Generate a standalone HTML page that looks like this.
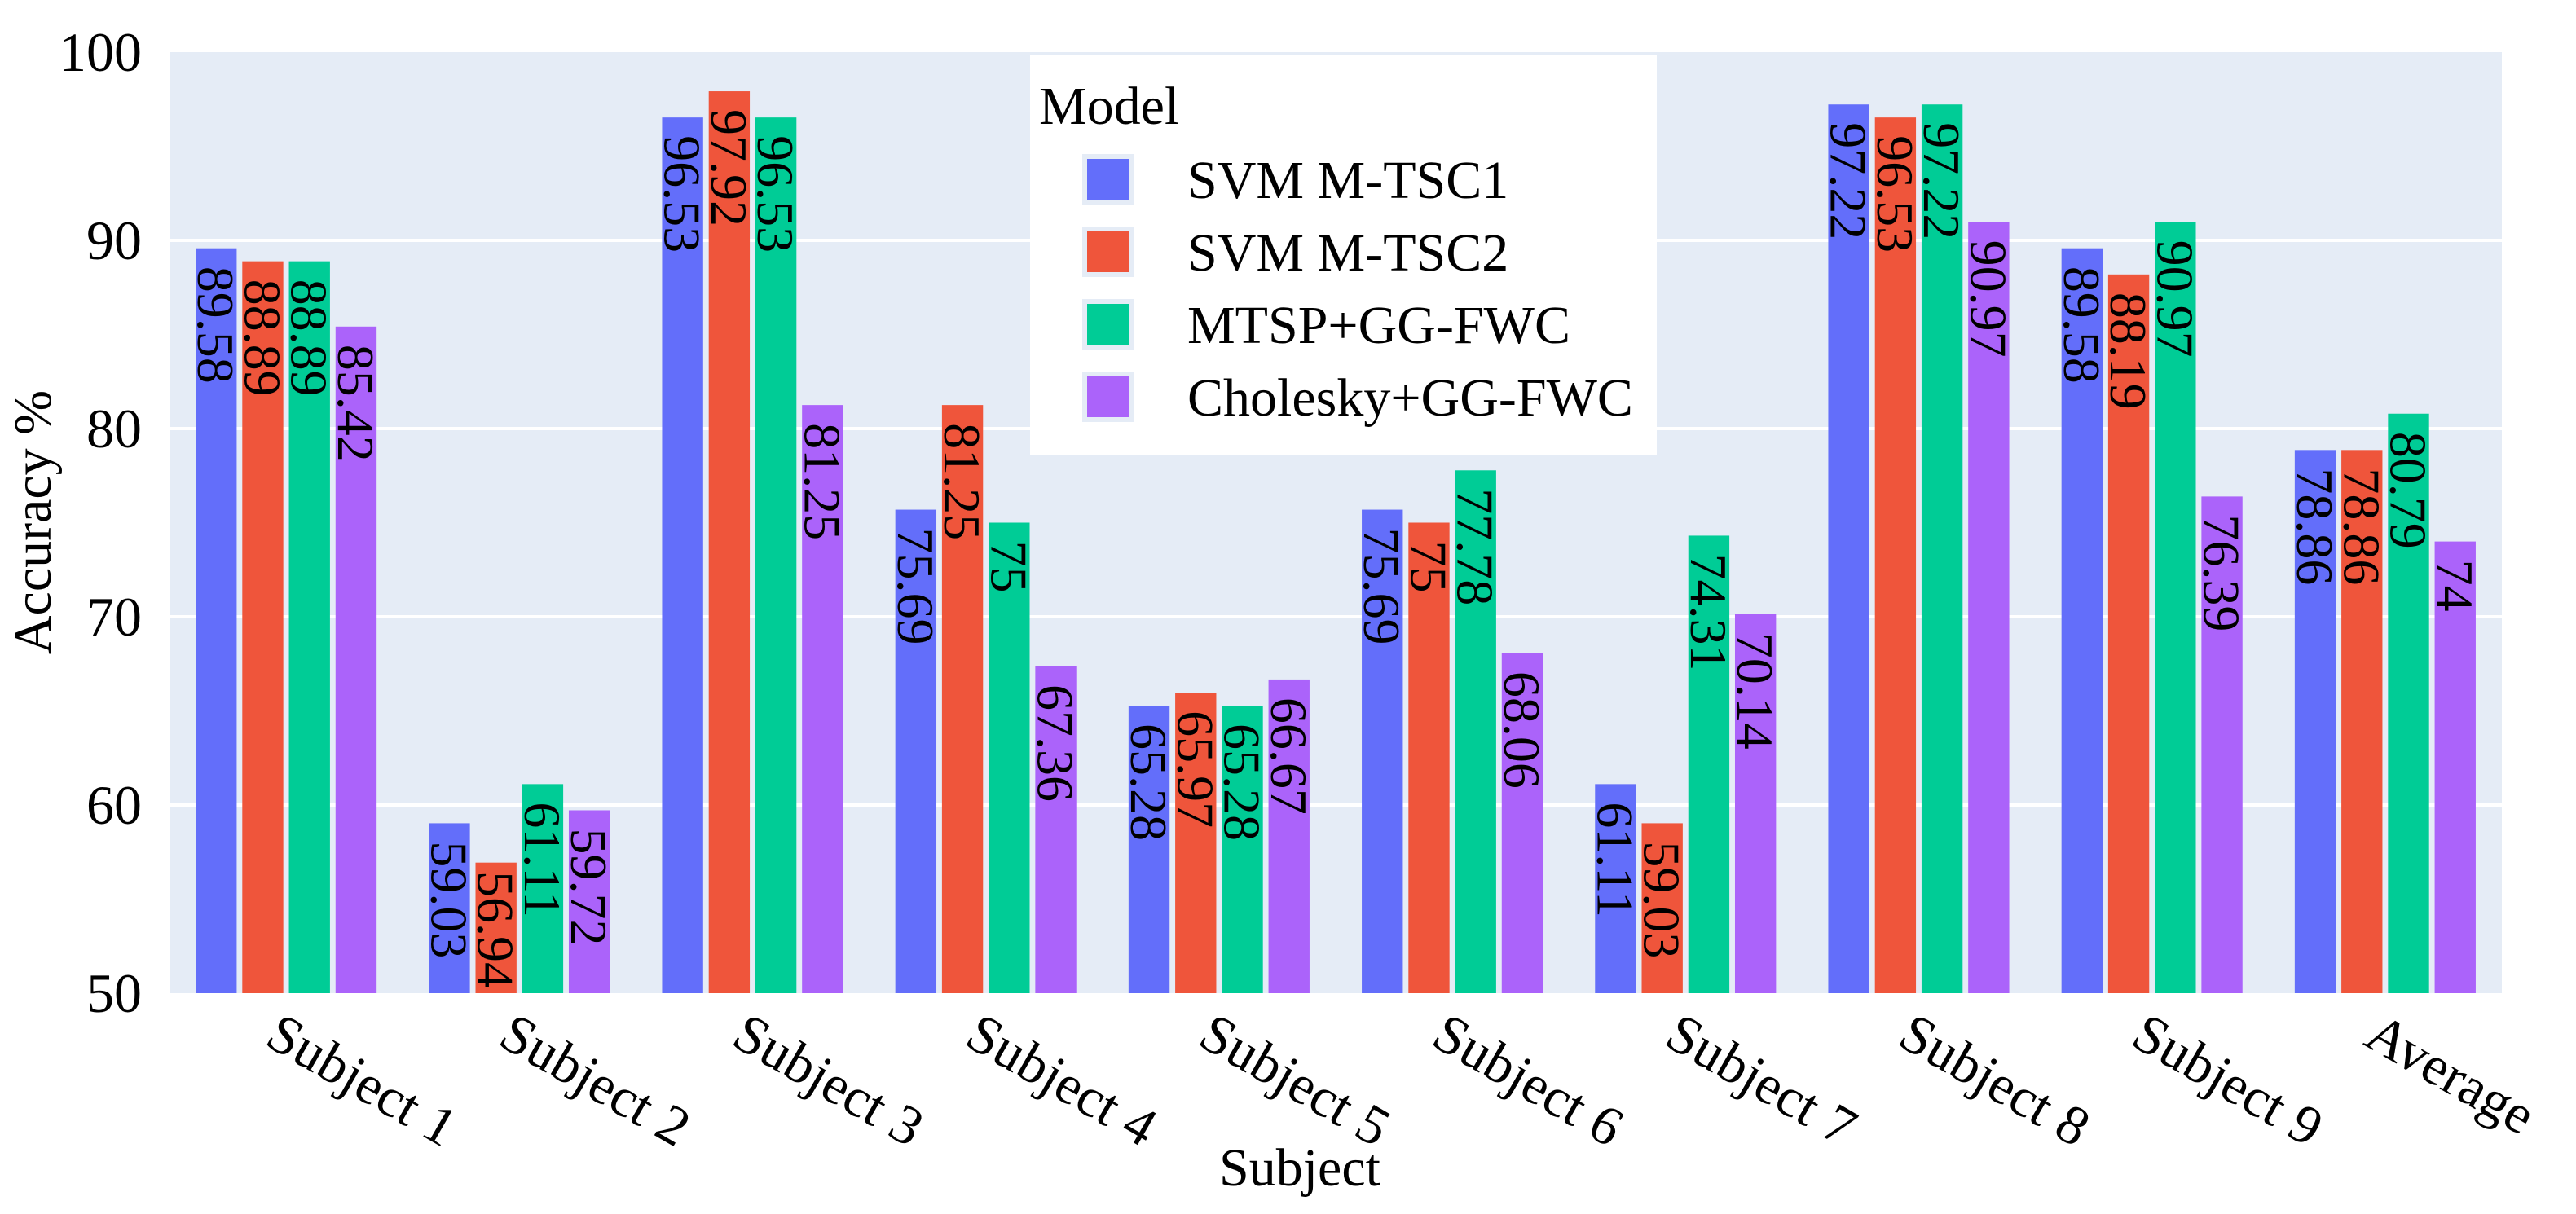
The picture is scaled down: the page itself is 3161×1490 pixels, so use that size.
<!DOCTYPE html>
<html><head><meta charset="utf-8">
<style>
html,body{margin:0;padding:0;background:#fff;}
svg{display:block;}
text{font-family:"Liberation Serif",serif;fill:#000;}
</style></head>
<body>
<svg id="chart" width="3161" height="1490" viewBox="0 0 3161 1490" xmlns="http://www.w3.org/2000/svg">
<rect x="208" y="64" width="2862" height="1155" fill="#E5ECF6"/>
<g id="grid"></g>
<g id="bars"></g>
<g id="yticks"></g>
<g id="xticks"></g>
<text x="1595" y="1455" font-size="66" text-anchor="middle">Subject</text>
<text transform="translate(62,641) rotate(-90)" font-size="66" text-anchor="middle">Accuracy %</text>
<g id="legend">
<rect x="1264" y="67" width="769" height="492" fill="#fff"/>
<text x="1275" y="152" font-size="66">Model</text>
</g>
</svg>
<script>
const categories = ["Subject 1","Subject 2","Subject 3","Subject 4","Subject 5","Subject 6","Subject 7","Subject 8","Subject 9","Average"];
const seriesNames = ["SVM M-TSC1","SVM M-TSC2","MTSP+GG-FWC","Cholesky+GG-FWC"];
const svm1 = [89.58,59.03,96.53,75.69,65.28,75.69,61.11,97.22,89.58,78.86];
const svm2 = [88.89,56.94,97.92,81.25,65.97,75,59.03,96.53,88.19,78.86];
const mtsp = [88.89,61.11,96.53,75,65.28,77.78,74.31,97.22,90.97,80.79];
const chol = [85.42,59.72,81.25,67.36,66.67,68.06,70.14,90.97,76.39,74];
const yTicks = [50,60,70,80,90,100];
const colors = ["#636EFA","#EF553B","#00CC96","#AB63FA"];
const series = [svm1,svm2,mtsp,chol];

const NS="http://www.w3.org/2000/svg";
const L=208,R=3070,T=64,B=1219,yMin=50,yMax=100;
const y = v => B-(v-yMin)/(yMax-yMin)*(B-T);
const band=(R-L)/categories.length;
const pitch=band*0.8/4, bw=pitch*0.88;
const xBar=(i,s)=>L+band*i+band*0.1+pitch*s+(pitch-bw)/2;
function mk(tag,attrs,parent){const e=document.createElementNS(NS,tag);for(const k in attrs)e.setAttribute(k,attrs[k]);parent.appendChild(e);return e;}
const grid=document.getElementById('grid'),yt=document.getElementById('yticks');
yTicks.forEach(t=>{
  if(t>yMin&&t<yMax){const g=mk('line',{x1:L,x2:R,y1:y(t),y2:y(t),stroke:'#fff','stroke-width':4},grid);
  
  }
  const tx=mk('text',{x:174,y:y(t)+23,'font-size':68,'text-anchor':'end'},yt);tx.textContent=t;
  
  
});
const bars=document.getElementById('bars');
series.forEach((vals,s)=>{
  vals.forEach((v,i)=>{
    const x=xBar(i,s);
    const r=mk('rect',{x:x,y:y(v),width:bw,height:B-y(v),fill:colors[s]},bars);
    
    
    const h=B-y(v);
    const gap=Math.min(22,Math.max(6,h-150));
    const cx=x+bw/2, ty=y(v)+gap;
    const lb=mk('text',{transform:`translate(${cx-22},${ty}) rotate(90)`,'font-size':64},bars);
    lb.textContent=String(v);
    
    
  });
});
const xt=document.getElementById('xticks');
categories.forEach((c,i)=>{
  const cx=L+band*(i+0.5)-4;
  const t=mk('text',{transform:`translate(${cx},${B+20}) rotate(30)`,'font-size':68,'dominant-baseline':'hanging'},xt);
  t.textContent=c;
  
  
});
const lg=document.getElementById('legend');
seriesNames.forEach((n,s)=>{
  const cy=220+s*89;
  const o=mk('rect',{x:1328,y:cy-31,width:64,height:62,fill:'#E5ECF6'},lg);
  
  
  const sw=mk('rect',{x:1334,y:cy-25,width:52,height:50,fill:colors[s]},lg);
  
  
  const t=mk('text',{x:1457,y:cy+23,'font-size':66},lg);
  t.textContent=n;
  
  
});
</script>
</body></html>
